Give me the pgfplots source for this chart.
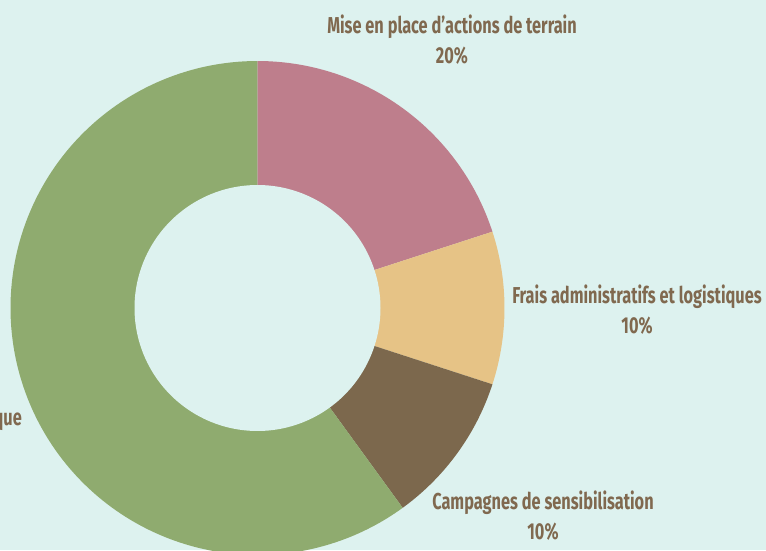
\documentclass[border=0pt]{standalone}
\usepackage{pgfplots}
\pgfplotsset{compat=1.18}
\usepackage{fontspec}
\setmainfont{Fira Sans}
\newfontfamily\labfont[FakeStretch=0.71]{Fira Sans}
\definecolor{bg}{HTML}{DDF2EF}
\definecolor{cpink}{HTML}{BE7E8C}
\definecolor{cyellow}{HTML}{E6C386}
\definecolor{cbrown}{HTML}{7C684D}
\definecolor{cgreen}{HTML}{8FAB6F}
\definecolor{ctext}{HTML}{80694F}
% slice values (percent)
\def\vA{20}\def\vB{10}\def\vC{10}\def\vD{60}
\pgfmathsetmacro\aA{90}
\pgfmathsetmacro\aB{\aA-3.6*\vA}
\pgfmathsetmacro\aC{\aB-3.6*\vB}
\pgfmathsetmacro\aD{\aC-3.6*\vC}
\pgfmathsetmacro\aE{\aD-3.6*\vD}
\def\cx{257.5}\def\cy{242}\def\R{247}\def\r{123}
\begin{document}
\begin{tikzpicture}
\useasboundingbox[fill=bg] (0,0) rectangle (766pt,550pt);
\clip (0,0) rectangle (766pt,550pt);
\begin{axis}[at={(0,0)},anchor=south west,scale only axis,width=766pt,height=550pt,
  xmin=0,xmax=766,ymin=0,ymax=550,hide axis,clip=false]
\addplot[fill=cpink,draw=none,domain=\aB:\aA,samples=80,variable=\t] ({\cx+\R*cos(t)},{\cy+\R*sin(t)}) -- (axis cs:\cx,\cy) -- cycle;
\addplot[fill=cyellow,draw=none,domain=\aC:\aB,samples=40,variable=\t] ({\cx+\R*cos(t)},{\cy+\R*sin(t)}) -- (axis cs:\cx,\cy) -- cycle;
\addplot[fill=cbrown,draw=none,domain=\aD:\aC,samples=40,variable=\t] ({\cx+\R*cos(t)},{\cy+\R*sin(t)}) -- (axis cs:\cx,\cy) -- cycle;
\addplot[fill=cgreen,draw=none,domain=\aE:\aD,samples=200,variable=\t] ({\cx+\R*cos(t)},{\cy+\R*sin(t)}) -- (axis cs:\cx,\cy) -- cycle;
\addplot[fill=bg,draw=none,domain=0:360,samples=200,variable=\t] ({\cx+\r*cos(t)},{\cy+\r*sin(t)}) -- cycle;
\begin{scope}[every node/.style={text=ctext,font=\labfont\bfseries\fontsize{23}{30}\selectfont,inner sep=0pt,align=center}]
\node at (axis cs:452,510) {Mise en place d’actions de terrain\\20\%};
\node at (axis cs:637,240) {Frais administratifs et logistiques\\10\%};
\node at (axis cs:543,34) {Campagnes de sensibilisation\\10\%};
\node[anchor=east] at (axis cs:22,131) {Sensibilisation et recherche scientifique};
\end{scope}
\end{axis}
\end{tikzpicture}
\end{document}
